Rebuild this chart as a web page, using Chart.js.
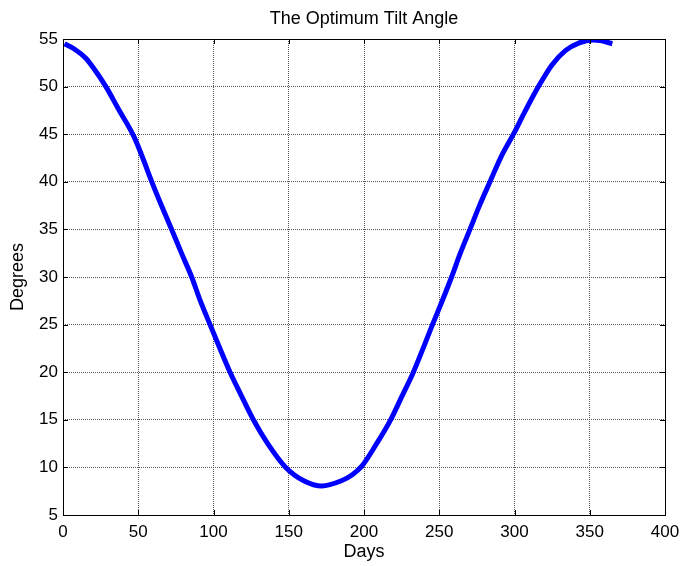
<!DOCTYPE html>
<html>
<head>
<meta charset="utf-8">
<title>The Optimum Tilt Angle</title>
<script src="https://cdn.jsdelivr.net/npm/chart.js@4.4.0/dist/chart.umd.min.js"></script>
<style>
    html, body { margin: 0; padding: 0; background: #fff; }
</style>
</head>
<body>
<canvas id="myChart" width="682" height="566"></canvas>
<script>
var days = [1, 8, 15, 20, 28.5, 37, 47, 53, 59, 66, 72.2, 79, 85.5, 91, 97.7, 104, 111, 118, 126.5, 136,
    148, 160, 172, 185, 192, 198.4, 208, 217.7, 225, 232.8, 239, 245.5, 252, 258.2, 264, 270.4, 277, 283.7,
    291, 299.3, 307, 315.9, 325, 334, 343, 352, 358, 365];
// optimum tilt angle (degrees) on those days
var tilt = [54.5, 53.9, 53.0, 52.0, 50.0, 47.6, 44.8, 42.5, 40.0, 37.3, 35.0, 32.4, 30.0, 27.6, 25.0, 22.6, 20.0, 17.7, 15.0, 12.5,
    10.0, 8.6, 8.05, 8.6, 9.2, 10.1, 12.4, 15.0, 17.4, 20.0, 22.4, 25.0, 27.5, 30.0, 32.5, 35.0, 37.6, 40.0,
    42.6, 45.0, 47.4, 50.0, 52.3, 53.8, 54.6, 54.9, 54.8, 54.5];
var xTicks = [0, 50, 100, 150, 200, 250, 300, 350, 400];
var yTicks = [5, 10, 15, 20, 25, 30, 35, 40, 45, 50, 55];

var FONT = 'Liberation Sans, Arial, sans-serif';

// MATLAB style box with inward tick marks
var frameBox = {
    id: 'frameBox',
    afterDraw: function (chart) {
        var ctx = chart.ctx;
        var a = chart.chartArea;
        var xs = chart.scales.x;
        var ys = chart.scales.y;
        ctx.save();
        ctx.strokeStyle = '#000';
        ctx.lineWidth = 1;
        ctx.beginPath();
        xTicks.forEach(function (v) {
            var p = Math.round(xs.getPixelForValue(v)) + 0.5;
            ctx.moveTo(p, a.bottom);
            ctx.lineTo(p, a.bottom - 5);
            ctx.moveTo(p, a.top);
            ctx.lineTo(p, a.top + 5);
        });
        yTicks.forEach(function (v) {
            var p = Math.round(ys.getPixelForValue(v)) + 0.5;
            ctx.moveTo(a.left, p);
            ctx.lineTo(a.left + 5, p);
            ctx.moveTo(a.right, p);
            ctx.lineTo(a.right - 5, p);
        });
        ctx.stroke();
        ctx.strokeRect(Math.round(a.left) + 0.5, Math.round(a.top) + 0.5,
            Math.round(a.right - a.left), Math.round(a.bottom - a.top));
        ctx.restore();
    }
};

var ctx = document.getElementById('myChart').getContext('2d');
var chart = new Chart(ctx, {
    type: 'line',
    data: {
        datasets: [{
            label: 'Tilt angle',
            data: days.map(function (d, i) { return { x: d, y: tilt[i] }; }),
            borderColor: '#0000ff',
            backgroundColor: '#0000ff',
            borderWidth: 5,
            pointRadius: 0,
            cubicInterpolationMode: 'monotone',
            fill: false
        }]
    },
    options: {
        responsive: false,
        animation: false,
        layout: { padding: { left: 0, right: 17, top: 0, bottom: 0 } },
        plugins: {
            legend: { display: false },
            tooltip: { enabled: false },
            title: {
                display: true,
                fullSize: false,
                text: 'The Optimum Tilt Angle',
                color: '#000',
                font: { family: FONT, size: 18, weight: 'normal' },
                padding: { top: 8.5, bottom: 8.9 }
            }
        },
        scales: {
            x: {
                type: 'linear',
                min: 0,
                max: 400,
                afterFit: function (s) {
                    s.height = 51;
                    s.paddingLeft = 0;
                    s.paddingRight = 0;
                },
                ticks: {
                    stepSize: 50,
                    maxRotation: 0,
                    color: '#000',
                    padding: 7.5,
                    font: { family: FONT, size: 17 }
                },
                grid: { color: '#555', lineWidth: 1, drawTicks: false },
                border: { display: false, dash: [1, 1] },
                title: {
                    display: true,
                    text: 'Days',
                    color: '#000',
                    font: { family: FONT, size: 18 },
                    padding: { top: 0, bottom: 3.5 }
                }
            },
            y: {
                type: 'linear',
                min: 5,
                max: 55,
                afterFit: function (s) {
                    s.width = 63;
                    s.paddingTop = 0;
                    s.paddingBottom = 0;
                },
                ticks: {
                    stepSize: 5,
                    color: '#000',
                    padding: 5,
                    font: { family: FONT, size: 17 }
                },
                grid: { color: '#555', lineWidth: 1, drawTicks: false },
                border: { display: false, dash: [1, 1] },
                title: {
                    display: true,
                    text: 'Degrees',
                    color: '#000',
                    font: { family: FONT, size: 18 },
                    padding: { top: 7, bottom: 0 }
                }
            }
        }
    },
    plugins: [frameBox]
});
</script>
</body>
</html>
